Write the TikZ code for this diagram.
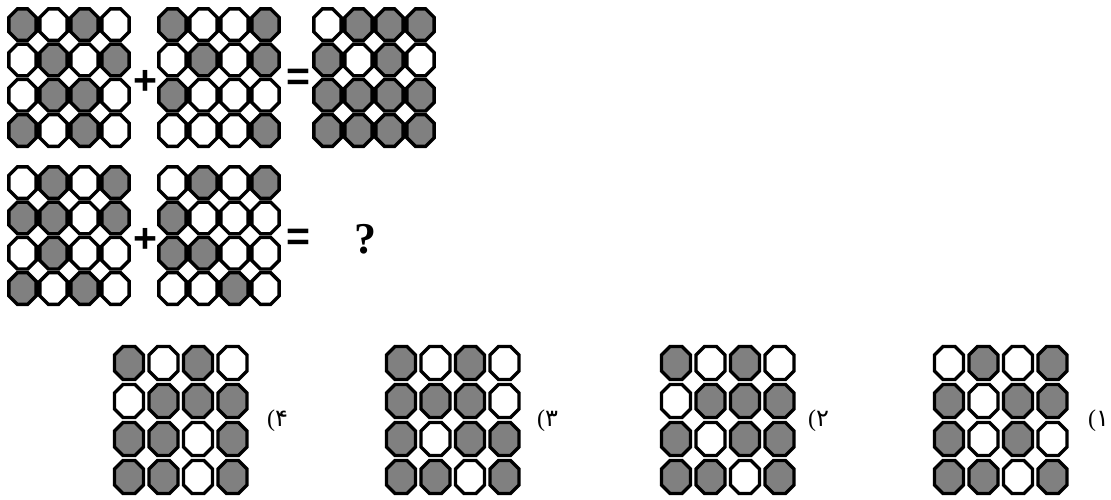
\documentclass[tikz,border=0pt]{standalone}
\usepackage{fontspec}
\setmainfont{Liberation Serif}
\newfontfamily\signfont{Liberation Sans}
\newfontfamily\arabicfont[Script=Arabic]{DejaVu Sans}
\usepackage{tikz}
\definecolor{cellgray}{HTML}{808080}

% one octagon: centre x, centre y, half width, half height, corner cut
\newcommand{\octpath}[5]{(#1+#3,#2-#4+#5) -- (#1+#3,#2+#4-#5) -- (#1+#3-#5,#2+#4) -- (#1-#3+#5,#2+#4)
  -- (#1-#3,#2+#4-#5) -- (#1-#3,#2-#4+#5) -- (#1-#3+#5,#2-#4) -- (#1+#3-#5,#2-#4) -- cycle}

% 4x4 board: first centre x, first centre y, pitch x, pitch y, half width, half height, rows
\newcommand{\octgrid}[7]{%
  \foreach \row [count=\r from 0] in {#7} {
    \foreach \v [count=\c from 0] in \row {
      \pgfmathsetmacro{\cx}{#1+\c*#3}
      \pgfmathsetmacro{\cy}{#2+\r*#4}
      \ifnum\v=1 \def\octfill{cellgray}\else\def\octfill{white}\fi
      \filldraw[octo, fill=\octfill] \octpath{\cx}{\cy}{#5}{#6}{8.5};
    }
  }%
}

\begin{document}
\begin{tikzpicture}[
  x=1pt, y=-1pt,
  octo/.style={draw=black, line width=3.4pt, line join=miter},
  sign/.style={font=\signfont\bfseries\fontsize{41}{41}\selectfont, inner sep=0pt},
  quest/.style={font=\bfseries\fontsize{44}{44}\selectfont, inner sep=0pt},
  optlab/.style={font=\fontsize{24}{24}\selectfont, inner sep=0pt, anchor=west}
]
\useasboundingbox (0,0) rectangle (1111,499);

% first line
\octgrid{22.5}{24.6}{31}{35.3}{13.6}{15.8}{{1,0,1,0},{0,1,0,1},{0,1,1,0},{1,0,1,0}}
\octgrid{172.5}{24.6}{31}{35.3}{13.6}{15.8}{{1,0,0,1},{0,1,0,1},{1,0,0,0},{0,0,0,1}}
\octgrid{327.5}{24.6}{31}{35.3}{13.6}{15.8}{{0,1,1,1},{1,0,1,0},{1,1,1,1},{1,1,1,1}}
\node[sign] (plusA) at (145.5,82) {+};
\node[sign] (eqA) at (298,79.5) {=};

% second line
\octgrid{22.5}{182.6}{31}{35.3}{13.6}{15.8}{{0,1,0,1},{1,1,0,1},{0,1,0,0},{1,0,1,0}}
\octgrid{172.5}{182.6}{31}{35.3}{13.6}{15.8}{{0,1,0,1},{1,0,0,0},{1,1,0,0},{0,0,1,0}}
\node[sign] (plusB) at (145.5,240) {+};
\node[sign] (eqB) at (298,239.5) {=};
\node[quest] (ask) at (365,239) {?};

% choices
\octgrid{129}{363}{34.5}{38}{14.5}{16.5}{{1,0,1,0},{0,1,1,1},{1,1,0,1},{1,1,0,1}}
\octgrid{401}{363}{34.5}{38}{14.5}{16.5}{{1,0,1,0},{1,1,1,0},{1,0,1,1},{1,1,0,1}}
\octgrid{676}{363}{34.5}{38}{14.5}{16.5}{{1,0,1,0},{0,1,1,1},{1,0,1,1},{1,1,0,1}}
\octgrid{949}{363}{34.5}{38}{14.5}{16.5}{{0,1,0,1},{1,0,1,1},{1,0,1,0},{1,1,0,1}}
\node[optlab] (lab4) at (267,421) {({\arabicfont ۴}};
\node[optlab] (lab3) at (537,421) {({\arabicfont ۳}};
\node[optlab] (lab2) at (808,421) {({\arabicfont ۲}};
\node[optlab] (lab1) at (1088,421) {({\arabicfont ۱}};
\end{tikzpicture}
\end{document}
